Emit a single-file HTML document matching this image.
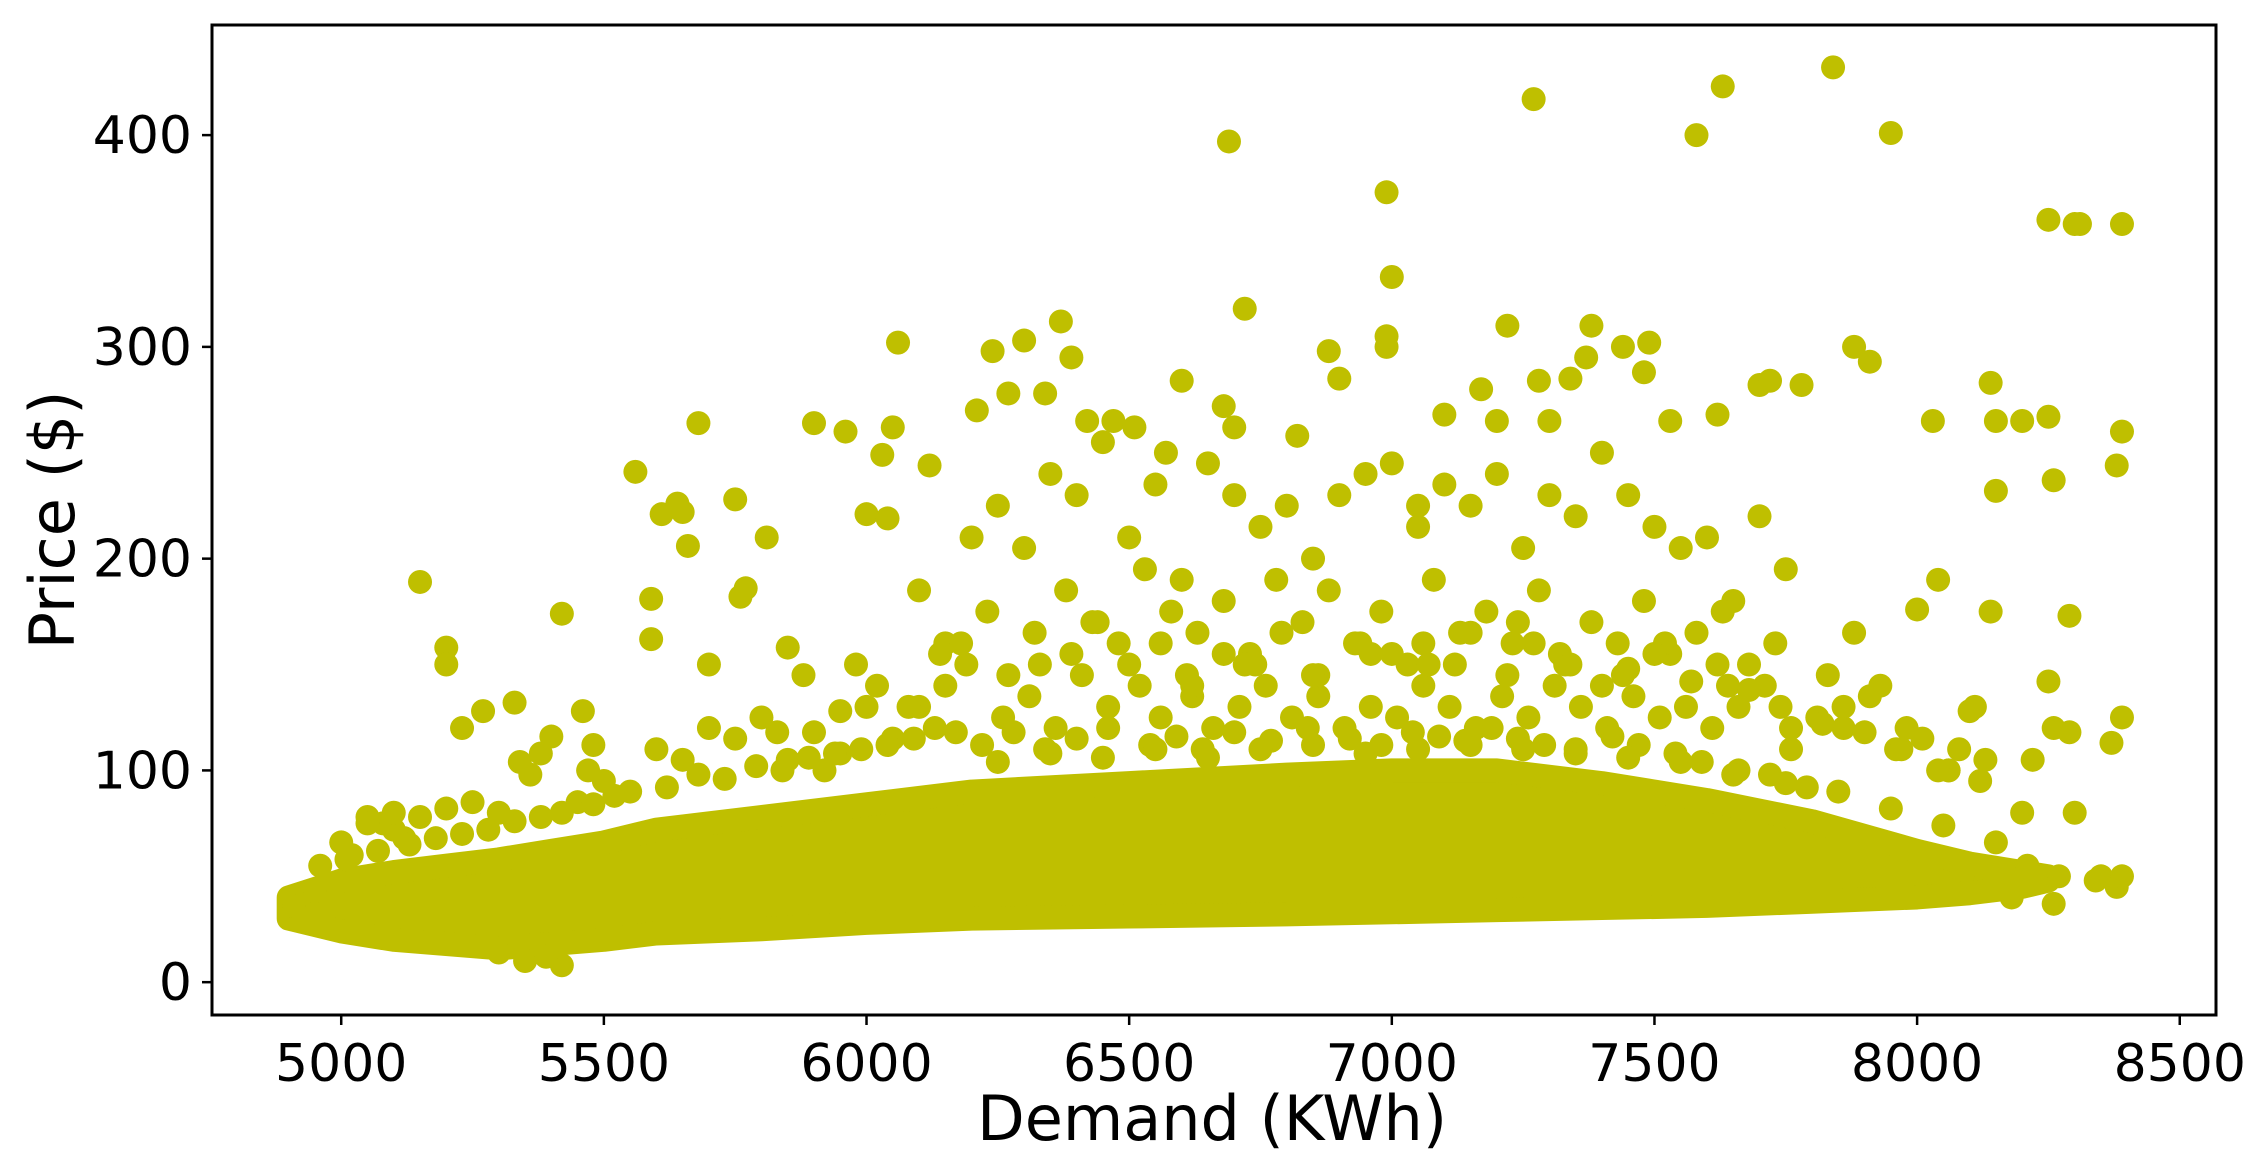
<!DOCTYPE html>
<html><head><meta charset="utf-8"><style>
html,body{margin:0;padding:0;background:#fff;}
svg{display:block;font-family:"DejaVu Sans","Liberation Sans",sans-serif;}
</style></head><body>
<svg id="chart" width="2250" height="1168" viewBox="0 0 2250 1168" xmlns="http://www.w3.org/2000/svg">
<rect width="2250" height="1168" fill="#fff"/>
<g id="marks"></g>
<rect x="212" y="25" width="2004" height="990" fill="none" stroke="#000" stroke-width="3"/>
<g id="xticks"></g>
<g id="yticks"></g>
<text x="1212" y="1140" font-size="62" text-anchor="middle">Demand (KWh)</text>
<text transform="translate(74,520) rotate(-90)" font-size="62" text-anchor="middle">Price ($)</text>
</svg>
<script>
const xTicks = [5000,5500,6000,6500,7000,7500,8000,8500];
const yTicks = [0,100,200,300,400];
// dense core band
const bandDemand = [4900,5000,5100,5200,5300,5400,5500,5600,5800,6000,6200,6500,6800,7000,7200,7400,7600,7800,8000,8100,8200,8250];
const bandLow =    [30,  24,  20,  18,  16,  18,  20,  23,  25,  28,  30,  31,  32,  33,  34,  35,  36,  38,  40,  42,  45,  48];
const bandHigh =   [40,  48,  52,  55,  58,  62,  66,  72,  78,  84,  90,  94,  98, 100, 100,  94,  86,  76,  62,  56,  52,  50];
// individual points
const demand = [4910,4950,5000,5010,5050,5080,5100,5120,5150,5200,5200,5230,5270,5330,5340,5420,5380,5400,5460,5480,5360,5470,
5560,5590,5610,5640,5660,5680,5650,5590,5700,5770,5760,5810,5750,5850,5900,5960,6000,6030,6060,6050,6120,6040,6100,6150,5950,5880,5830,
6210,6240,6300,6270,6340,6370,6390,6420,6470,6510,6600,6570,6690,6720,6680,6700,6820,6880,6900,6990,6990,6990,7000,7050,7100,7170,7220,7200,
7270,7280,7300,7340,7380,7370,7440,7490,7480,7530,7580,7620,7630,7700,7720,7780,7840,7880,7910,7950,8000,8030,8040,8140,8150,8150,8200,
8250,8250,8260,8300,8310,8390,8390,8380,8390,8290,8370,8290,8260,8250,8220,8140,8130,8110,8100,8060,8300,8270,8350,8380,8390,8260,8180,8210,8340,
6200,6250,6300,6350,6400,6450,6500,6550,6600,6650,6700,6750,6800,6850,6900,6950,7000,7050,7100,7150,7200,7250,7300,7350,7400,7450,7500,7550,7600,7650,7700,7750,
6180,6230,6330,6380,6430,6480,6530,6580,6630,6680,6730,6780,6830,6880,6930,6980,7030,7080,7130,7180,7230,7280,7330,7380,7430,7480,7530,7580,7630,7680,7730,7830,7880,7930,
6100,6150,6260,6310,6360,6410,6460,6520,6560,6620,6660,6710,6760,6810,6860,6910,6960,7010,7060,7110,7160,7210,7260,7310,7360,7410,7460,7510,7560,7610,7660,7710,7760,7810,7860,7910,7960,8010,8060,
5600,5650,5700,5750,5800,5850,5900,5950,6000,6050,5550,5500,5450,5300,5250,5200,5150,5100,5050,6020,6080,6140,5980,5920,
7060,7120,7240,7320,7440,7520,7640,7760,7860,7980,8080,8120,8200,6620,6740,6860,6960,
6220,6280,6340,6400,6460,6540,6590,6640,6700,6770,6840,6920,6980,7040,7090,7140,7190,7240,7290,7350,7420,7470,7540,7590,7660,7720,7790,
6190,6270,6320,6390,6440,6500,6560,6610,6680,6720,6790,6850,6940,7000,7070,7150,7220,7270,7340,7400,7450,7500,7570,7620,7680,7740,7820,7900,7970,8040,
5620,5680,5730,5790,5840,5890,5940,5990,6040,6090,6130,6170,5520,5480,5420,5380,5330,5280,5230,5180,5130,5070,5020,4960,
6250,6350,6450,6550,6650,6750,6850,6950,7050,7150,7250,7350,7450,7550,7650,7750,7850,7950,8050,8150,5350,5420,5390,5300];
const price = [36,43,66,58,78,75,72,68,189,158,150,120,128,132,104,174,108,116,128,112,98,100,
241,181,221,226,206,264,222,162,150,186,182,210,228,158,264,260,221,249,302,262,244,219,185,160,128,145,118,
270,298,303,278,278,312,295,265,265,262,284,250,397,318,272,262,258,298,285,305,300,373,333,225,268,280,310,265,
417,284,265,285,310,295,300,302,288,265,400,268,423,282,284,282,432,300,293,401,176,265,190,283,265,232,265,
267,360,237,358,358,358,260,244,125,173,113,118,120,142,105,175,105,130,128,100,80,50,50,45,50,37,40,55,48,
210,225,205,240,230,255,210,235,190,245,230,215,225,200,230,240,245,215,235,225,240,205,230,220,250,230,215,205,210,180,220,195,
160,175,150,185,170,160,195,175,165,180,155,190,170,185,160,175,150,190,165,175,160,185,150,170,160,180,155,165,175,150,160,145,165,140,
130,140,125,135,120,145,130,140,125,135,120,130,140,125,135,120,130,125,140,130,120,135,125,140,130,120,135,125,130,120,130,140,110,125,120,135,110,115,100,
110,105,120,115,125,105,118,108,130,115,90,95,85,80,85,82,78,80,75,140,130,155,150,100,
160,150,170,155,145,160,140,120,130,120,110,95,80,140,150,145,155,
112,118,110,115,120,112,116,110,118,114,120,115,112,118,116,114,120,115,112,110,116,112,108,104,100,98,92,
150,145,165,155,170,150,160,145,155,150,165,145,160,155,150,165,145,160,150,140,148,155,142,150,138,130,122,118,110,100,
92,98,96,102,100,106,108,110,112,115,120,118,88,84,80,78,76,72,70,68,65,62,60,55,
104,108,106,110,106,110,112,108,110,112,110,108,106,104,98,94,90,82,74,66,10,8,12,14];

const X0=212, X1=2216, Y0=25, Y1=1015;
const xMin=4754, xMax=8569, yMin=-15.5, yMax=452;
function sx(v){return X0+(v-xMin)/(xMax-xMin)*(X1-X0);}
function sy(v){return Y1-(v-yMin)/(yMax-yMin)*(Y1-Y0);}
const NS="http://www.w3.org/2000/svg";
const color="#bfbf00";
const marks=document.getElementById('marks');

let d="";
for(let i=0;i<bandDemand.length;i++){d+=(i?"L":"M")+sx(bandDemand[i])+","+sy(bandHigh[i]);}
for(let i=bandDemand.length-1;i>=0;i--){d+="L"+sx(bandDemand[i])+","+sy(bandLow[i]);}
d+="Z";
const band=document.createElementNS(NS,'path');
band.setAttribute('d',d);
band.setAttribute('fill',color);
band.setAttribute('stroke',color);
band.setAttribute('stroke-width','24');
band.setAttribute('stroke-linejoin','round');


marks.appendChild(band);

for(let i=0;i<demand.length;i++){
  const c=document.createElementNS(NS,'circle');
  c.setAttribute('cx',sx(demand[i]));
  c.setAttribute('cy',sy(price[i]));
  c.setAttribute('r',12);
  c.setAttribute('fill',color);
  
  
  marks.appendChild(c);
}
const xg=document.getElementById('xticks');
xTicks.forEach(t=>{
  const l=document.createElementNS(NS,'line');
  l.setAttribute('x1',sx(t));l.setAttribute('x2',sx(t));
  l.setAttribute('y1',Y1);l.setAttribute('y2',Y1+10);
  l.setAttribute('stroke','#000');l.setAttribute('stroke-width','2.5');
  
  
  xg.appendChild(l);
  const tx=document.createElementNS(NS,'text');
  tx.setAttribute('x',sx(t));tx.setAttribute('y',Y1+66);
  tx.setAttribute('font-size','52');tx.setAttribute('text-anchor','middle');
  tx.textContent=t;
  
  
  xg.appendChild(tx);
});
const yg=document.getElementById('yticks');
yTicks.forEach(t=>{
  const l=document.createElementNS(NS,'line');
  l.setAttribute('x1',X0-10);l.setAttribute('x2',X0);
  l.setAttribute('y1',sy(t));l.setAttribute('y2',sy(t));
  l.setAttribute('stroke','#000');l.setAttribute('stroke-width','2.5');
  
  
  yg.appendChild(l);
  const tx=document.createElementNS(NS,'text');
  tx.setAttribute('x',X0-20);tx.setAttribute('y',sy(t)+18);
  tx.setAttribute('font-size','52');tx.setAttribute('text-anchor','end');
  tx.textContent=t;
  
  
  yg.appendChild(tx);
});
</script>
</body></html>
